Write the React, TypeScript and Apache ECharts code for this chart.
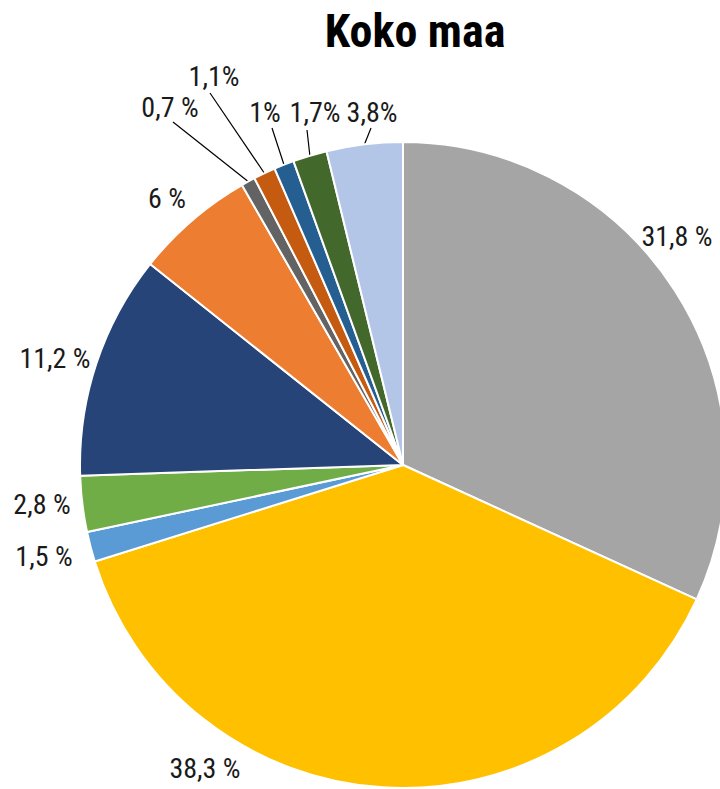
import React, { useEffect, useRef } from "react";
import * as echarts from "echarts";

const categories = ["A", "B", "C", "D", "E", "F", "G", "H", "I", "J", "K"];
const values = [31.8, 38.3, 1.5, 2.8, 11.2, 6, 0.7, 1.1, 1, 1.7, 3.8];
const labelTexts = ["31,8 %", "38,3 %", "1,5 %", "2,8 %", "11,2 %", "6 %", "0,7 %", "1,1%", "1%", "1,7%", "3,8%"];
const colors = ["#A5A5A5", "#FFC000", "#5B9BD5", "#70AD47", "#264478", "#ED7D31", "#636363", "#C55A11", "#255E91", "#43682B", "#B4C6E7"];

// label placement (style, not data)
const labelAnchors: [number, number][] = [
  [677, 236], [205, 768], [44, 556], [42, 504], [55, 358], [167, 198],
  [170, 107], [214, 76], [265, 112], [315, 112], [372, 112],
];
const leaderEnds: ([number, number] | null)[] = [
  null, null, null, null, null, null,
  [173, 122], [210, 93], [272, 128], [307, 130], [371, 128],
];

const FONT = "'Roboto Condensed', 'Liberation Sans Narrow', 'DejaVu Sans Condensed', Roboto, sans-serif";

export default function App() {
  const ref = useRef<HTMLDivElement>(null);
  useEffect(() => {
    if (!ref.current) return;
    const chart = echarts.init(ref.current, undefined, { renderer: "svg" });
    chart.setOption({
      animation: false,
      backgroundColor: "#ffffff",
      title: {
        text: "Koko maa",
        left: 410,
        top: 3,
        textAlign: "center",
        textStyle: { fontFamily: FONT, fontWeight: "bold", fontSize: 46, color: "#000" },
      },
      series: [
        {
          type: "pie",
          center: [403, 465],
          radius: [0, 323],
          startAngle: 90,
          clockwise: true,
          itemStyle: { borderColor: "#ffffff", borderWidth: 2 },
          label: {
            show: true,
            position: "outside",
            fontFamily: FONT,
            fontSize: 28,
            color: "#1a1a1a",
            overflow: "none",
            edgeDistance: 0,
            bleedMargin: 0,
            formatter: (p: any) => labelTexts[p.dataIndex],
          },
          labelLine: { show: true, lineStyle: { color: "#000", width: 1.2 }, length: 10, length2: 0 },
          labelLayout: (p: any) => {
            const i = p.dataIndex;
            const a = labelAnchors[i];
            const res: any = { x: a[0], y: a[1], align: "center", verticalAlign: "middle", hideOverlap: false };
            const e = leaderEnds[i];
            if (e && p.labelLinePoints) {
              const s = p.labelLinePoints[0];
              res.labelLinePoints = [s, e, e];
            }
            return res;
          },
          data: values.map((v, i) => ({
            name: categories[i],
            value: v,
            itemStyle: { color: colors[i] },
            labelLine: { show: leaderEnds[i] !== null },
          })),
        },
      ],
    });
    return () => chart.dispose();
  }, []);
  return <div ref={ref} style={{ position: "fixed", left: 0, top: 0, width: 720, height: 789 }} />;
}
